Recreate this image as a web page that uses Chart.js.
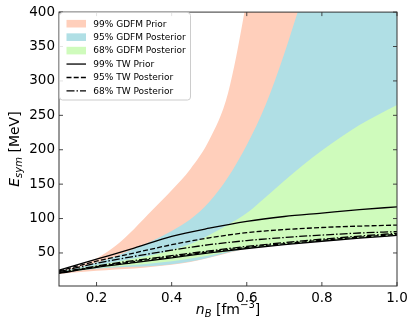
<!DOCTYPE html>
<html><head><meta charset="utf-8">
<script src="https://cdn.jsdelivr.net/npm/chart.js@4/dist/chart.umd.min.js"></script>
<style>html,body{margin:0;padding:0;background:#fff;}#wrap{width:415px;height:332px;}</style>
</head><body><div id="wrap"><canvas id="c" width="415" height="332"></canvas></div>
<script>
// ---- data ----
const bandN = [0.1,0.15,0.2,0.25,0.3,0.35,0.4,0.45,0.5,0.55,0.6,0.65,0.7,0.75,0.8,0.85,0.9,0.95,1.0];
const gdfmPriorUpper = [23,31,42,60,85,113,141,172,214,282,420,600,800,1000,1200,1400,1600,1800,2000];
const gdfmPriorLower = [19.5,22,24,26,27.5,30,33,37,43,50,56,59,62,64.5,67,69,71.5,73.5,75.5];
const gdfm95Upper = [22.5,29,36,45,56,68,82,99,124,160,207,265,340,425,510,600,690,780,870];
const gdfm95Lower = [20.5,24,27,29,30,31,33.5,37.5,43.5,50.5,56.5,59.5,62,64.5,67,69,71.5,73.5,75.5];
const gdfm68Upper = [22,27,32,37,42,47,54,63,76,91,108,131,155,178,199,218,236,251,265];
const gdfm68Lower = [21,24,28,30.5,32.5,35,38,42,46.5,52,57,60,62.5,65,67.5,69.5,72,74,76];

const lineN = [0.1,0.2,0.3,0.4,0.5,0.6,0.7,0.8,0.9,1.0];
const twPriorUpper = [25,41,57,74,86,96,103,108,113,117];
const twPriorLower = [20.5,29,36,43,50,56.5,62,67,71.5,75.5];
const tw95Upper = [24,38,50,62,72,79.5,84,87,89,90.5];
const tw95Lower = [21,30,37.5,44.5,51.5,58,63.5,68.5,73,77];
const tw68Upper = [23,35,45,54,62,68,72.5,76,79,81];
const tw68Lower = [21.5,31,39,46,53,59.5,65,70,74.5,78.5];

const xTicks = [0.2,0.4,0.6,0.8,1.0];
const yTicks = [50,100,150,200,250,300,350,400];
const legendLabels = ['99% GDFM Prior','95% GDFM Posterior','68% GDFM Posterior','99% TW Prior','95% TW Posterior','68% TW Posterior'];

const SALMON = '#ffcfbb', BLUE = '#b0dfe5', GREEN = '#cffbbc';
const DASH = [5, 2.2], DASHDOT = [8, 2, 1.5, 2];

const pts = (xs, ys) => xs.map((x, i) => ({x: x, y: ys[i]}));
const lineDs = (ys, dash) => ({data: pts(lineN, ys), borderColor: '#000', borderWidth: 1.3, borderDash: dash, pointRadius: 0, fill: false, cubicInterpolationMode: 'monotone'});
const lowDs = (ys) => ({data: pts(bandN, ys), borderWidth: 0, borderColor: 'rgba(0,0,0,0)', pointRadius: 0, fill: false, cubicInterpolationMode: 'monotone'});
const upDs = (ys, c) => ({data: pts(bandN, ys), borderWidth: 0, borderColor: 'rgba(0,0,0,0)', backgroundColor: c, pointRadius: 0, fill: '-1', cubicInterpolationMode: 'monotone'});

const FONT = 'DejaVu Sans';

function richText(ctx, parts, x, y) {
  let total = 0;
  parts.forEach(p => { ctx.font = p.font; total += ctx.measureText(p.t).width; });
  let cx = x - total / 2;
  parts.forEach(p => { ctx.font = p.font; ctx.fillText(p.t, cx, y + (p.dy || 0)); cx += ctx.measureText(p.t).width; });
}

const decor = {
  id: 'decor',
  afterDraw(chart) {
    const ctx = chart.ctx, a = chart.chartArea, xs = chart.scales.x, ys = chart.scales.y;
    ctx.save();
    ctx.strokeStyle = '#333'; ctx.lineWidth = 1; ctx.setLineDash([]);
    ctx.strokeRect(a.left, a.top, a.right - a.left, a.bottom - a.top);
    ctx.lineWidth = 0.9;
    ctx.beginPath();
    xTicks.forEach(v => { const p = xs.getPixelForValue(v); ctx.moveTo(p, a.bottom); ctx.lineTo(p, a.bottom - 4); ctx.moveTo(p, a.top); ctx.lineTo(p, a.top + 4); });
    yTicks.forEach(v => { const p = ys.getPixelForValue(v); ctx.moveTo(a.left, p); ctx.lineTo(a.left + 4, p); ctx.moveTo(a.right, p); ctx.lineTo(a.right - 4, p); });
    ctx.stroke();
    ctx.fillStyle = '#000'; ctx.textBaseline = 'alphabetic'; ctx.textAlign = 'left';
    richText(ctx, [
      {t: 'n', font: 'italic 14px "' + FONT + '"'},
      {t: 'B', font: 'italic 10px "' + FONT + '"', dy: 3},
      {t: ' [fm', font: '14px "' + FONT + '"'},
      {t: '\u22123', font: '10px "' + FONT + '"', dy: -6},
      {t: ']', font: '14px "' + FONT + '"'}
    ], (a.left + a.right) / 2, 313.5);
    ctx.save();
    ctx.translate(19, (a.top + a.bottom) / 2);
    ctx.rotate(-Math.PI / 2);
    richText(ctx, [
      {t: 'E', font: 'italic 14px "' + FONT + '"'},
      {t: 'sym', font: 'italic 10px "' + FONT + '"', dy: 3},
      {t: ' [MeV]', font: '14px "' + FONT + '"'}
    ], 0, 0);
    ctx.restore();
    const bx = 59.5, by = 12.5, bw = 131, bh = 87.5;
    ctx.beginPath();
    ctx.roundRect(bx, by, bw, bh, 3);
    ctx.fillStyle = 'rgba(255,255,255,0.85)'; ctx.fill();
    ctx.strokeStyle = '#cccccc'; ctx.lineWidth = 1; ctx.stroke();
    const kinds = [{c: SALMON}, {c: BLUE}, {c: GREEN}, {d: []}, {d: DASH}, {d: DASHDOT}];
    kinds.forEach((k, i) => {
      const ry = 23.7 + i * 13.45;
      if (k.c) { ctx.fillStyle = k.c; ctx.fillRect(66.5, ry - 3.8, 19.5, 7.6); }
      else { ctx.strokeStyle = '#000'; ctx.lineWidth = 1.3; ctx.setLineDash(k.d); ctx.beginPath(); ctx.moveTo(66.5, ry); ctx.lineTo(86, ry); ctx.stroke(); ctx.setLineDash([]); }
      ctx.fillStyle = '#000'; ctx.font = '9px "' + FONT + '"'; ctx.textBaseline = 'middle';
      ctx.fillText(legendLabels[i], 93.3, ry + 0.5);
    });
    ctx.restore();
  }
};

new Chart(document.getElementById('c'), {
  type: 'line',
  data: {
    datasets: [
      lineDs(twPriorUpper, []), lineDs(twPriorLower, []),
      lineDs(tw95Upper, DASH), lineDs(tw95Lower, DASH),
      lineDs(tw68Upper, DASHDOT), lineDs(tw68Lower, DASHDOT),
      lowDs(gdfm68Lower), upDs(gdfm68Upper, GREEN),
      lowDs(gdfm95Lower), upDs(gdfm95Upper, BLUE),
      lowDs(gdfmPriorLower), upDs(gdfmPriorUpper, SALMON)
    ]
  },
  options: {
    responsive: false, animation: false,
    layout: {padding: {left: 0, right: 18, top: 12, bottom: 0}},
    plugins: {legend: {display: false}, tooltip: {enabled: false}},
    scales: {
      x: {type: 'linear', min: 0.1, max: 1.0,
        afterBuildTicks: s => { s.ticks = xTicks.map(v => ({value: v})); },
        afterFit: s => { s.height = 46; },
        grid: {display: false, drawTicks: false}, border: {display: false},
        ticks: {callback: v => Number(v).toFixed(1), color: '#000', padding: 4, maxRotation: 0, autoSkip: false, font: {family: FONT, size: 13.5}}},
      y: {type: 'linear', min: 2, max: 400,
        afterBuildTicks: s => { s.ticks = yTicks.map(v => ({value: v})); },
        afterFit: s => { s.width = 59; },
        grid: {display: false, drawTicks: false}, border: {display: false},
        ticks: {callback: v => String(v), color: '#000', padding: 4, autoSkip: false, font: {family: FONT, size: 13.5}}}
    }
  },
  plugins: [decor]
});
</script>
</body></html>
